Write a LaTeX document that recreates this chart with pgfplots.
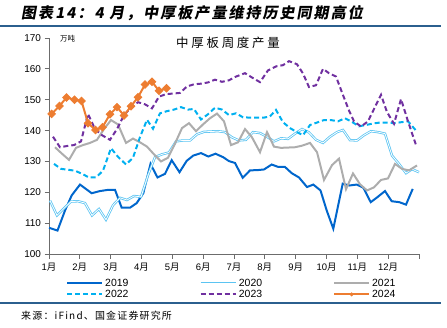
\documentclass[border=0pt]{standalone}
\usepackage{fontspec}
\setmainfont{Liberation Sans}
\newfontfamily\cjk{Noto Sans CJK SC}
\newfontfamily\cjkt[FakeSlant=0.18,LetterSpace=14]{Noto Sans CJK SC}
\newfontfamily\cjkh[LetterSpace=22]{Noto Sans CJK SC}
\newfontfamily\cjks[LetterSpace=12]{Noto Sans CJK SC}
\usepackage{pgfplots}
\pgfplotsset{compat=1.18}
\definecolor{c19}{HTML}{0066CC}
\definecolor{c20}{HTML}{5BC4F2}
\definecolor{c21}{HTML}{ADADAD}
\definecolor{c22}{HTML}{00B0F0}
\definecolor{c23}{HTML}{7030A0}
\definecolor{c24}{HTML}{ED7D31}
\definecolor{rule}{HTML}{2B5F8E}
\pgfplotsset{orangelegend/.style={legend image code/.code={\draw[##1, mark size=1.1pt, mark repeat=2, mark phase=2] plot coordinates {(0bp,0bp) (17.5bp,0bp) (35bp,0bp)};}}}
\begin{document}
\begin{tikzpicture}[x=1bp,y=1bp]
\path[use as bounding box] (0,0) rectangle (447,327);
\begin{axis}[
  at={(49bp,73bp)}, anchor=south west,
  scale only axis, width=370bp, height=216bp,
  xmin=49, xmax=419, ymin=100, ymax=170,
  axis lines=left, axis line style={-, draw=gray!85!black, line width=0.8pt},
  tick align=outside, major tick length=4.5bp,
  tick style={draw=gray!85!black, line width=0.8pt},
  xtick={49,79.83,110.67,141.5,172.33,203.17,234,264.83,295.67,326.5,357.33,388.17,419},
  xticklabels={1{\cjk 月},2{\cjk 月},3{\cjk 月},4{\cjk 月},5{\cjk 月},6{\cjk 月},7{\cjk 月},8{\cjk 月},9{\cjk 月},10{\cjk 月},11{\cjk 月},12{\cjk 月},},
  ytick={100,110,...,170},
  /pgf/number format/assume math mode=true,
  yticklabel style={font=\fontsize{10}{12}\selectfont},
  xticklabel style={font=\fontsize{9.5}{11}\selectfont, yshift=-1bp},
  legend style={draw=none, fill=none, at={(axis description cs:0.038,-0.095)}, anchor=north west,
    font=\fontsize{10.5}{11}\selectfont, row sep=-1.5bp,
    /tikz/every even column/.append style={column sep=69bp}},
  legend columns=3,
  legend cell align=left,
  legend image code/.code={\draw[#1] (0bp,0bp) -- (35bp,0bp);},
  clip=false,
]
% 2019
\addplot[c19, line width=2pt] coordinates {
(49,108.5)(57.5,107.6)(65,114.1)(71.7,119.0)(80,122.5)(91.7,119.7)(100,120.4)(108.3,120.8)(115,120.8)(121.7,115.0)(130,115.0)(136.7,116.5)(143.3,119.7)(150.5,129.2)(157.5,124.8)(165,126.0)(171.7,130.4)(179.5,126.5)(186.7,130.2)(193.3,131.9)(201,132.7)(208.3,131.6)(215.5,132.5)(223,131.4)(229,130.1)(235,129.5)(242.7,124.7)(250,127.1)(258,127.2)(264,127.4)(271.7,129.0)(278.3,128.2)(285,128.2)(291.7,126.2)(299,124.8)(307,121.7)(313.3,122.5)(320.5,120.6)(326.7,114.1)(333.3,108.2)(342.7,122.8)(349.3,122.2)(356.7,122.5)(363.3,121.5)(370.7,116.8)(377.3,118.4)(385,120.4)(391.7,117.1)(399.3,116.8)(406,116.0)(412.7,121.1)
};
\addlegendentry{2019}
% 2020
\addplot[c20, line width=0.8pt, double=white, double distance=0.8pt] coordinates {
(50,117.3)(57,112.5)(64,114.8)(71,117.0)(78,117.1)(85,116.5)(92,112.5)(99,114.6)(106,111.1)(113,115.8)(120,118.2)(127,117.5)(134,118.8)(141,118.5)(148,125.5)(155,131.4)(162,132.3)(169,132.9)(176,136.5)(183,136.8)(190,136.8)(197,138.8)(204,139.6)(211,139.7)(218,139.8)(225,139.5)(232,137.8)(239,136.8)(246,137.0)(253,139.5)(260,139.2)(267,138.0)(274,136.5)(281,137.5)(288,137.3)(295,139.0)(302,140.5)(309,139.4)(316,137.0)(323,136.0)(330,138.0)(337,139.5)(343,140.2)(350,136.9)(357,136.8)(364,138.5)(371,139.8)(378,139.5)(385,139.0)(392,131.9)(399,129.2)(406,126.2)(412,127.5)(419,126.5)
};
\addlegendentry{2020}
% 2021
\addplot[c21, line width=2pt] coordinates {
(55,134.6)(62,132.5)(69,130.5)(76,134.4)(83,135.3)(90,136.0)(97,137.0)(104,140.5)(111,143.4)(118,142.0)(126,136.0)(133,137.4)(140,136.2)(147,134.8)(154,132.3)(161,130.0)(168,131.2)(175,135.8)(182,140.8)(189,142.4)(196,139.8)(203,142.0)(210,144.0)(217,145.5)(224,143.0)(231,135.3)(238,136.2)(245,140.5)(252,137.8)(260,133.0)(267,139.5)(274,134.8)(281,134.4)(288,134.5)(295,134.6)(302,135.1)(310,136.0)(317,133.0)(324,124.0)(332,128.8)(339,130.9)(346,121.0)(353,126.1)(360,122.6)(367,120.6)(374,121.6)(381,124.0)(388,124.5)(395,129.2)(402,127.6)(409,127.1)(417,128.7)
};
\addlegendentry{2021}
% 2022
\addplot[c22, line width=2pt, dash pattern=on 5bp off 3bp] coordinates {
(54,129.2)(61,127.6)(68,127.3)(75,127.0)(82,126.0)(89,124.8)(96,124.8)(103,127.0)(111,134.3)(118,131.5)(126,129.0)(133,131.2)(140,137.9)(147,143.5)(153,140.6)(160,145.6)(167,146.3)(174,146.8)(181,147.6)(188,146.8)(194,147.0)(201,143.6)(208,145.3)(215,147.4)(222,146.8)(229,145.0)(236,145.6)(243,144.3)(250,144.2)(257,144.2)(264,144.2)(270,144.6)(276,146.7)(283,142.7)(290,140.8)(297,139.5)(303,138.5)(310,141.8)(317,142.6)(324,143.4)(331,143.4)(338,143.0)(345,144.0)(352,142.8)(359,141.4)(366,141.8)(373,142.3)(380,142.6)(387,142.6)(394,142.4)(401,142.7)(408,143.0)(416,140.0)
};
\addlegendentry{2022}
% 2023
\addplot[c23, line width=2pt, dash pattern=on 5bp off 3bp] coordinates {
(53,138.0)(60,134.6)(67,135.0)(74,135.3)(81,136.5)(88,145.4)(95,140.5)(102,138.5)(110,137.0)(117,140.5)(124,145.0)(131,147.5)(138,149.2)(145,148.5)(152,147.2)(159,151.0)(166,151.8)(173,152.0)(180,152.2)(187,154.3)(194,155.0)(201,155.2)(208,155.6)(215,156.5)(222,155.8)(229,156.3)(236,157.5)(245,158.6)(252,157.2)(260,155.7)(268,159.5)(276,160.8)(283,161.2)(289,162.5)(297,161.5)(303,158.5)(309,154.1)(316,154.7)(323,160.0)(329,158.6)(336,157.5)(343,151.5)(349,146.5)(354,143.0)(361,141.3)(368,143.0)(374,147.0)(381,151.6)(387,146.0)(394,142.2)(401,150.2)(408,143.0)(416,135.3)
};
\addlegendentry{2023}
% 2024
\addplot[c24, line width=2pt, mark=square*, mark size=2.7pt, mark options={solid, fill=c24, line width=0.8pt, rotate=45}, orangelegend] coordinates {
(51.7,145.4)(59.5,148.0)(66.5,150.7)(74.5,150.0)(81.5,149.6)(88,142.4)(95.5,140.2)(102.5,141.1)(110,145.3)(117,147.6)(124,144.9)(131,147.9)(138,150.8)(145,154.9)(152,155.8)(159,152.9)(166.5,153.7)
};
\addlegendentry{2024}
\end{axis}
% headings
\node[anchor=west, inner sep=0] at (21,314) {\fontsize{15}{16}\selectfont\cjkt\bfseries 图表14：4 月，中厚板产量维持历史同期高位};
\draw[rule, line width=1.3pt] (0,301) -- (441,301);
\draw[rule, line width=1.3pt] (0,24) -- (441,24);
\node[anchor=west, inner sep=0] at (21,11) {\fontsize{10}{12}\selectfont\cjks 来源：iFind、国金证券研究所};
\node[anchor=west, inner sep=0] at (60,288) {\fontsize{7.5}{9}\selectfont\cjk 万吨};
\node[inner sep=0] at (228,284.5) {\fontsize{12.5}{14}\selectfont\cjkh 中厚板周度产量};
\end{tikzpicture}
\end{document}
